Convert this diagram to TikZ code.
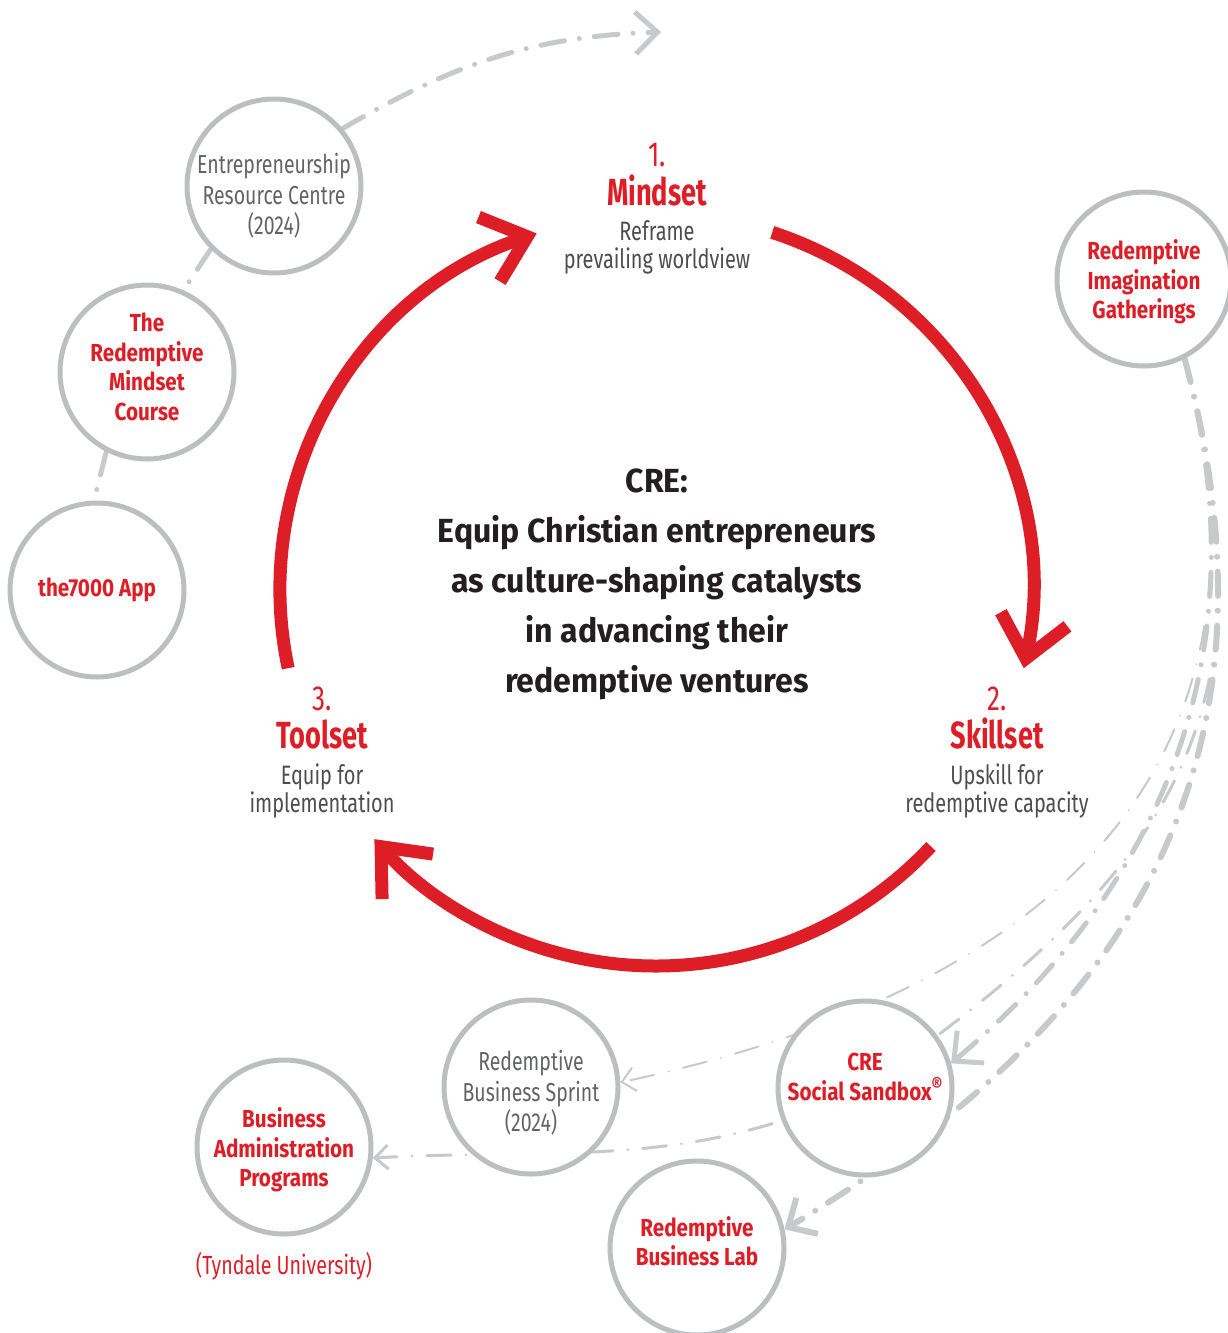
\documentclass[tikz,border=0pt]{standalone}
\usepackage{fontspec}
\setmainfont{Fira Sans}[FakeStretch=0.75]
\newfontfamily\ringfont{Fira Sans}[FakeStretch=0.84]
\newfontfamily\titlefont{Fira Sans}[FakeStretch=0.72]
\newfontfamily\goalfont{Fira Sans}[FakeStretch=0.96]
\usetikzlibrary{positioning,arrows.meta,backgrounds}
\definecolor{crered}{RGB}{221,30,38}
\definecolor{ringgray}{RGB}{188,190,192}
\definecolor{linkgray}{RGB}{200,201,203}
\definecolor{darktext}{RGB}{35,31,32}
\definecolor{desctext}{RGB}{77,77,79}
\definecolor{ringtext}{RGB}{98,99,101}
\newcommand{\fsz}[2]{\fontsize{#1}{#2}\selectfont}

\begin{document}
\begin{tikzpicture}[x=0.5pt,y=0.5pt,
    ring/.style={circle, draw=ringgray, line width=2.5pt, fill=white, minimum size=87pt, inner sep=0pt},
    redlbl/.style={text=crered, font=\ringfont\fsz{12.3}{14.75}\bfseries, inner sep=0pt, align=center},
    graylbl/.style={text=ringtext, font=\fsz{13}{15.25}, inner sep=0pt, align=center},
    redarc/.style={draw=crered, line width=6.5pt, -{Straight Barb[sharp, length=20pt, width=34pt]}},
    link/.style={draw=linkgray, line cap=round, dash pattern=on 12pt off 7.5pt on 0pt off 7.5pt},
    bigtip/.style={-{Straight Barb[length=11pt, width=21pt]}},
    smalltip/.style={-{Straight Barb[length=6.5pt, width=12pt]}},
    stepnum/.style={text=crered, font=\fsz{17.4}{20}, inner sep=0pt, anchor=base},
    steptitle/.style={text=crered, font=\titlefont\fsz{18.9}{22}\bfseries, inner sep=0pt, anchor=base},
    stepdesc/.style={text=desctext, font=\fsz{13.3}{14}, inner sep=0pt, anchor=base, align=center},
    goal/.style={text=darktext, font=\goalfont\fsz{16.7}{25}\bfseries, inner sep=0pt, anchor=base, align=center}
]
    \useasboundingbox (0,0) rectangle (1227,-1333);

    \coordinate (ctr) at (656,-590);
    \coordinate (topend) at (661,-32);

    \node[goal] (goal) at (657,-692) {CRE:\\Equip Christian entrepreneurs\\as culture-shaping catalysts\\in advancing their\\redemptive ventures};

    \node[stepnum] (num1) at (657,-166) {1.};
    \node[steptitle] (mindset) at ([yshift=-19.5pt]num1.base) {Mindset};
    \node[stepdesc] (mindsetdesc) at ([yshift=-31.5pt]mindset.base) {Reframe\\prevailing worldview};

    \node[stepnum] (num2) at (997,-710) {2.};
    \node[steptitle] (skillset) at ([yshift=-19pt]num2.base) {Skillset};
    \node[stepdesc] (skillsetdesc) at ([yshift=-32pt]skillset.base) {Upskill for\\redemptive capacity};

    \node[stepnum] (num3) at (322,-710) {3.};
    \node[steptitle] (toolset) at ([yshift=-19pt]num3.base) {Toolset};
    \node[stepdesc] (toolsetdesc) at ([yshift=-32pt]toolset.base) {Equip for\\implementation};

    \draw[redarc] (ctr) ++(72:376) arc[start angle=72, end angle=-12, radius=376];
    \draw[redarc] (ctr) ++(-43:376) arc[start angle=-43, end angle=-138.5, radius=376];
    \draw[redarc] (ctr) ++(192:376) arc[start angle=192, end angle=108.5, radius=376];

    \node[ring] (erc) at (274,-186) {};
    \node[ring] (course) at (147,-372) {};
    \node[ring] (app) at (97,-590) {};
    \node[ring] (gath) at (1144,-279) {};
    \node[ring] (sandbox) at (865,-1088) {};
    \node[ring] (sprint) at (531,-1087) {};
    \node[ring] (lab) at (697,-1248) {};
    \node[ring] (admin) at (284,-1147) {};

    \node[graylbl] (erctext) at ([yshift=-5pt]erc.center) {Entrepreneurship\\Resource Centre\\(2024)};
    \node[redlbl] (coursetext) at ([yshift=2.5pt]course.center) {The\\Redemptive\\Mindset\\Course};
    \node[redlbl] (apptext) at (app.center) {the7000 App};
    \node[redlbl] (gathtext) at ([yshift=-1.5pt]gath.center) {Redemptive\\Imagination\\Gatherings};
    \node[redlbl] (sandboxtext) at ([yshift=5.5pt]sandbox.center) {CRE\\Social Sandbox\raisebox{0.3em}{\fsz{10}{10}®}};
    \node[graylbl] (sprinttext) at ([yshift=-3pt]sprint.center) {Redemptive\\Business Sprint\\(2024)};
    \node[redlbl] (labtext) at ([yshift=3.5pt]lab.center) {Redemptive\\Business Lab};
    \node[redlbl] (admintext) at ([yshift=-1.5pt]admin.center) {Business\\Administration\\Programs};
    \node[text=crered, font=\fsz{13.1}{15}] (tyndale) at (284,-1266) {(Tyndale University)};

    \begin{scope}[on background layer]
        \draw[link, line width=2.5pt, bigtip] (erc.40) to[out=30, in=182] (topend);
        \draw[link, line width=2.5pt] (erc.225) -- (course.66);
        \draw[link, line width=2.5pt] (course.243) -- (app.92);
        \draw[link, line width=1pt, smalltip] (gath.-63) to[out=-75, in=12, looseness=1.2] (sprint.3);
        \draw[link, line width=1.5pt, smalltip] (gath.-63) to[out=-75, in=35, looseness=1.2] (sandbox.center) to[out=205, in=3] (admin.-7);
        \draw[link, line width=2.5pt, bigtip] (gath.-63) to[out=-75, in=40] (sandbox.16);
        \draw[link, line width=3pt, bigtip] (gath.-63) to[out=-75, in=31, looseness=1.1] (lab.12);
    \end{scope}
\end{tikzpicture}
\end{document}
